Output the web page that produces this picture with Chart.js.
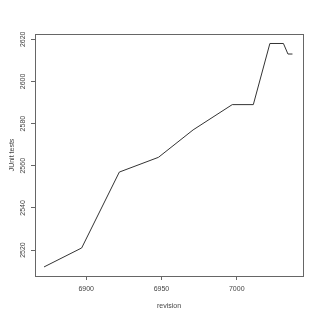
<!DOCTYPE html>
<html>
<head>
<meta charset="utf-8">
<script src="https://cdn.jsdelivr.net/npm/chart.js@4/dist/chart.umd.min.js"></script>
<style>
  html, body { margin: 0; padding: 0; background: #fff; }
  canvas { display: block; }
</style>
</head>
<body>
<canvas id="graphic" width="320" height="320"></canvas>
<script>
// values
let revisions = [6872, 6897, 6922, 6948, 6971, 6997, 7011, 7022, 7031, 7034, 7037]
let junitTests = [2512, 2521, 2557, 2564, 2577, 2589, 2589, 2618, 2618, 2613, 2613]
let xTicks = [6900, 6950, 7000]
let yTicks = [2520, 2540, 2560, 2580, 2600, 2620]

let axisColor = "#666"
let textColor = "#444"
let fontSpec = { family: "'Liberation Sans', Arial, sans-serif", size: 7 }

// R style box round the plot area
const boxPlugin = {
    id: "box",
    afterDraw(chart) {
        const a = chart.chartArea
        const ctx = chart.ctx
        ctx.save()
        ctx.strokeStyle = axisColor
        ctx.lineWidth = 1
        ctx.strokeRect(Math.round(a.left) + 0.5, Math.round(a.top) + 0.5, Math.round(a.right - a.left), Math.round(a.bottom - a.top))
        ctx.restore()
    },
}

const chartID = document.getElementById("graphic").getContext("2d")
let graphic = new Chart(chartID, {
    type: "line",
    data: {
        datasets: [
            {
                label: "JUnit tests",
                data: revisions.map((r, i) => ({ x: r, y: junitTests[i] })),
                borderColor: "#333",
                borderWidth: 1,
                pointRadius: 0,
                tension: 0,
                fill: false,
            },
        ],
    },
    options: {
        responsive: false,
        animation: false,
        devicePixelRatio: 1,
        layout: { padding: { top: 34, right: 17, left: 0, bottom: 0 } },
        plugins: { legend: { display: false }, tooltip: { enabled: false } },
        scales: {
            x: {
                type: "linear",
                min: 6866,
                max: 7044,
                afterBuildTicks: (scale) => { scale.ticks = xTicks.map((v) => ({ value: v })) },
                afterFit: (scale) => { scale.height = 44 },
                grid: { drawOnChartArea: false, drawTicks: true, tickLength: 4, color: axisColor },
                border: { display: true, color: axisColor },
                ticks: { color: textColor, font: fontSpec, padding: 5, maxRotation: 0, autoSkip: false, callback: (v) => String(v) },
                title: { display: true, text: "revision", color: textColor, font: fontSpec, padding: { top: 0, bottom: 10 } },
            },
            y: {
                min: 2507.7,
                max: 2622.5,
                afterBuildTicks: (scale) => { scale.ticks = yTicks.map((v) => ({ value: v })) },
                afterFit: (scale) => { scale.width = 35 },
                grid: { drawOnChartArea: false, drawTicks: true, tickLength: 4, color: axisColor },
                border: { display: true, color: axisColor },
                ticks: { color: textColor, font: fontSpec, padding: 0, minRotation: 90, maxRotation: 90, crossAlign: "center", autoSkip: false, callback: (v) => String(v) },
                title: { display: true, text: "JUnit tests", color: textColor, font: fontSpec, padding: { top: 8, bottom: 0 } },
            },
        },
    },
    plugins: [boxPlugin],
})
</script>
</body>
</html>
